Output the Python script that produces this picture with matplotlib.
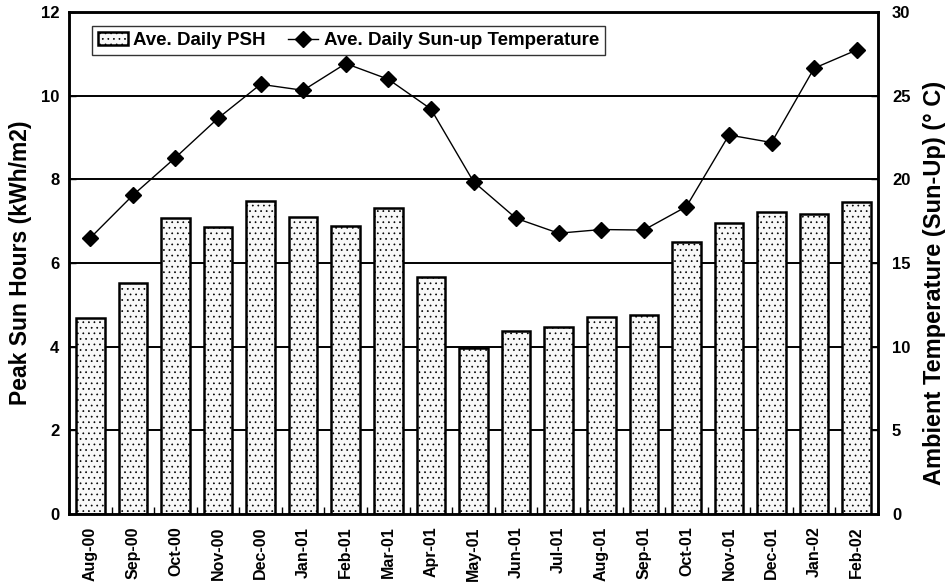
import numpy as np
import matplotlib
matplotlib.use('Agg')
import matplotlib.pyplot as plt

plt.rcParams['font.family'] = ['Liberation Sans', 'DejaVu Sans']
plt.rcParams['font.weight'] = 'bold'
plt.rcParams['hatch.color'] = '#9a9a9a'
plt.rcParams['hatch.linewidth'] = 0.5

## data
months = ['Aug-00', 'Sep-00', 'Oct-00', 'Nov-00', 'Dec-00', 'Jan-01', 'Feb-01',
          'Mar-01', 'Apr-01', 'May-01', 'Jun-01', 'Jul-01', 'Aug-01', 'Sep-01',
          'Oct-01', 'Nov-01', 'Dec-01', 'Jan-02', 'Feb-02']
psh = [4.69, 5.51, 7.07, 6.86, 7.48, 7.10, 6.89, 7.32, 5.67, 3.98,
       4.37, 4.47, 4.70, 4.76, 6.51, 6.95, 7.21, 7.18, 7.45]
temp = [16.5, 19.05, 21.3, 23.65, 25.68, 25.32, 26.92, 25.98, 24.2, 19.86,
        17.67, 16.78, 17.0, 16.97, 18.37, 22.65, 22.2, 26.64, 27.73]

x = np.arange(len(months))

fig = plt.figure(figsize=(9.46, 5.82), dpi=100)
ax = fig.add_axes([69/946, 68/582, (878-69)/946, (514-12)/582])

for y in [2, 4, 6, 8, 10]:
    ax.axhline(y, color='black', lw=1.4, zorder=0)

bars = ax.bar(x, psh, width=0.67, facecolor='#f8f8f8', edgecolor='black',
              linewidth=1.8, hatch='...', zorder=2, label='Ave. Daily PSH')

ax.set_xlim(-0.5, len(months) - 0.5)
ax.set_ylim(0, 12)
ax.set_yticks(range(0, 13, 2))
ax.set_xticks(x)
ax.set_xticklabels(months, rotation=90, fontsize=11.5, fontweight='bold')
ax.set_xticks(np.arange(-0.5, len(months), 1), minor=True)
ax.tick_params(axis='x', which='major', length=0, pad=9)
ax.tick_params(axis='x', which='minor', direction='in', length=5, width=1)
ax.tick_params(axis='y', direction='in', length=5, width=1, labelsize=12, pad=7)
ax.set_ylabel('Peak Sun Hours (kWh/m2)', fontsize=16.5, fontweight='bold', labelpad=6)
for s in ax.spines.values():
    s.set_linewidth(1.8)

ax2 = ax.twinx()
line, = ax2.plot(x, temp, color='black', lw=1, marker='D', markersize=8,
                 label='Ave. Daily Sun-up Temperature', zorder=3)
ax2.set_ylim(0, 30)
ax2.set_yticks(range(0, 31, 5))
ax2.tick_params(axis='y', direction='in', length=5, width=1, labelsize=12, pad=10)
ax2.set_ylabel('Ambient Temperature (Sun-Up) (° C)', fontsize=17,
               fontweight='bold', labelpad=6)
ax2.yaxis.set_label_coords(1.056, 0.46)
for s in ax2.spines.values():
    s.set_linewidth(1.8)

leg = ax2.legend([bars, line], ['Ave. Daily PSH', 'Ave. Daily Sun-up Temperature'],
                 loc='upper left', bbox_to_anchor=(0.017, 0.99), ncol=2,
                 fontsize=13.5, frameon=True, fancybox=False, edgecolor='black',
                 handlelength=1.6, columnspacing=1.2, borderpad=0.3,
                 handletextpad=0.3)
leg.get_frame().set_linewidth(1.0)
for t in leg.get_texts():
    t.set_fontweight('bold')

fig.savefig('out.png', dpi=100)
